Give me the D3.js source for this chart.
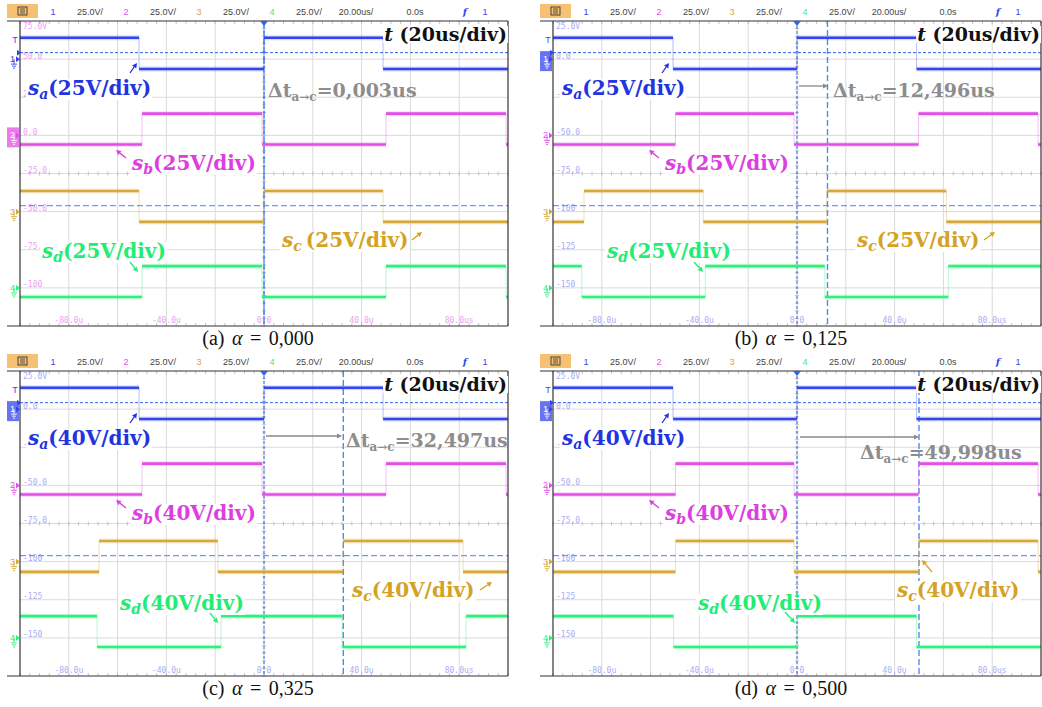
<!DOCTYPE html>
<html>
<head>
<meta charset="utf-8">
<script src="https://cdn.jsdelivr.net/npm/d3@7"></script>
<style>
  body { margin: 0; background: #fff; }
  svg { display: block; }
</style>
</head>
<body>
<script>
var W = 1042, H = 707;

var panelNames = ['a', 'b', 'c', 'd'];
var alphaValues = ['0,000', '0,125', '0,325', '0,500'];
var voltsPerDiv = ['25V/div', '25V/div', '40V/div', '40V/div'];
var deltaT = [0.003, 12.496, 32.497, 49.998];
var deltaTLabels = ['=0,003us', '=12,496us', '=32,497us', '=49,998us'];

var gridTimes = [-80, -60, -40, -20, 0, 20, 40, 60, 80];
var gridDivs = [-3, -2, -1, 0, 1, 2, 3];
var timeTicks = [-80, -40, 0, 40, 80];
var timeTickLabels = ['-80.0u', '-40.0u', '0.0', '40.0u', '80.0us'];
var levelDivs = [4, 3, 2, 1, 0, -1, -2, -3];
var levelLabelsA = ['75.0V', '50.0', '25.0', '0.0', '-25.0', '-50.0', '-75.0', '-100'];
var levelLabelsB = ['25.0V', '0.0', '-25.0', '-50.0', '-75.0', '-100', '-125', '-150'];

var headerLabels = ['1', '25.0V/', '2', '25.0V/', '3', '25.0V/', '4', '25.0V/', '20.00us/', '0.0s', '1'];

// trace levels, in screen divisions (center = 0)
var highLevel = [3.56, 1.57, -0.46, -2.43];
var lowLevel = [2.74, 0.76, -1.27, -3.24];
var groundLevel = [3, 1, -1, -3];
var triggerLevel = 3.17;
var cursorLevel = -0.84;

// switching edges in us, per panel; trace starts high (1) or low (0) at -100us
var startSa = [1, 1, 1, 1];
var startSb = [0, 0, 0, 0];
var startSc = [1, 0, 0, 0];
var startSd = [0, 1, 1, 1];
var edgesSa = [[-51.2, 0, 48.8], [-50.8, 0, 49.0], [-51.2, 0, 48.8], [-50.8, 0, 49.0]];
var edgesSb = [[-50.0, -0.8, 50.0, 99.2], [-49.8, -1.2, 49.8, 98.8], [-50.0, -0.8, 50.0, 99.2], [-49.8, -1.2, 49.8, 98.8]];
var edgesSc = [[-51.2, 0, 48.8], [-87.3, -38.4, 12.2, 61.2], [-67.6, -18.9, 32.4, 81.6], [-49.8, -1.2, 49.8, 98.8]];
var edgesSd = [[-50.0, -0.8, 50.0, 99.2], [-88.2, -37.6, 11.4, 62.0], [-68.4, -17.6, 32.0, 82.8], [-50.6, 0, 49.0]];

var traceColors = ['#3346ee', '#e24fe6', '#d6a83a', '#30f07c'];
var labelColors = ['#2233e0', '#dd3ee0', '#d4a224', '#22ec74'];
var chanNames = ['a', 'b', 'c', 'd'];

// ---- layout ----
var panelX = [20, 553, 20, 553];
var panelTop = [21, 21, 371, 371];
var plotW = 488, plotH = 305;

// annotation placement relative to the plot origin
var notes = [
  { sa: [8, 74], sb: [112, 149], sc: [262, 226], sd: [22, 237],
    aSa: [110, 52, 117, 42], aSb: [106, 137, 96, 129], aSc: [392, 219, 402, 211], aSd: [110, 241, 118, 251],
    dt: [248, 76], dtArrow: null },
  { sa: [9, 74], sb: [112, 149], sc: [304, 226], sd: [54, 237],
    aSa: [109, 52, 116, 42], aSb: [106, 137, 96, 129], aSc: [431, 219, 442, 211], aSd: [141, 241, 150, 251],
    dt: [280, 76], dtArrow: [246, 65, 275, 65] },
  { sa: [8, 74], sb: [112, 149], sc: [332, 226], sd: [100, 239],
    aSa: [110, 52, 117, 42], aSb: [106, 137, 96, 129], aSc: [460, 219, 472, 211], aSd: [190, 242, 198, 252],
    dt: [326, 76], dtArrow: [246, 65, 322, 65] },
  { sa: [9, 74], sb: [112, 149], sc: [344, 226], sd: [145, 239],
    aSa: [109, 52, 116, 42], aSb: [106, 137, 96, 129], aSc: [379, 201, 369, 189], aSd: [232, 241, 242, 252],
    dt: [307, 88], dtArrow: [247, 66, 366, 66] }
];

var svg = d3.select('body').append('svg').attr('width', W).attr('height', H);

var serif = '"DejaVu Serif", serif';
var mono = '"DejaVu Sans Mono", monospace';
var sans = '"Liberation Sans", Arial, sans-serif';

// text made of runs: {t, it, sub, size}
function richText(g, x, y, runs, size, color, anchor) {
  var txt = g.append('text')
    .attr('x', x).attr('y', y)
    .attr('font-family', serif)
    .attr('font-weight', 'bold')
    .attr('font-size', size)
    .attr('fill', color)
    .attr('text-anchor', anchor || 'start');
  var shift = 0;
  runs.forEach(function(r) {
    var dy = (r.sub ? 4 : 0) - shift;
    shift = r.sub ? 4 : 0;
    txt.append('tspan')
      .attr('dy', dy)
      .attr('font-style', r.it ? 'italic' : 'normal')
      .attr('font-size', r.size || size)
      .text(r.t);
  });
  return txt;
}

function withBackground(g, txt) {
  var b = txt.node().getBBox();
  g.insert('rect', function() { return txt.node(); })
    .attr('x', b.x - 1).attr('y', b.y + 3)
    .attr('width', b.width + 2).attr('height', b.height - 5)
    .attr('fill', '#fff');
}

function arrow(g, a, color, w) {
  var x1 = a[0], y1 = a[1], x2 = a[2], y2 = a[3];
  var ang = Math.atan2(y2 - y1, x2 - x1);
  var hl = 5, hw = 2.6;
  var bx = x2 - hl * Math.cos(ang), by = y2 - hl * Math.sin(ang);
  g.append('line')
    .attr('x1', x1).attr('y1', y1).attr('x2', bx).attr('y2', by)
    .attr('stroke', color).attr('stroke-width', w || 1.4);
  g.append('path')
    .attr('d', 'M' + x2 + ',' + y2 +
      'L' + (bx - hw * Math.sin(ang)) + ',' + (by + hw * Math.cos(ang)) +
      'L' + (bx + hw * Math.sin(ang)) + ',' + (by - hw * Math.cos(ang)) + 'Z')
    .attr('fill', color);
}

function segments(start, edges) {
  var times = [-100].concat(edges, [100]);
  var out = [];
  for (var i = 0; i < times.length - 1; i++) {
    out.push({ t0: times[i], t1: times[i + 1], high: (start + i) % 2 === 1 });
  }
  return out;
}

function drawPanel(p) {
  var x0 = panelX[p], top = panelTop[p];
  var g = svg.append('g');
  var x = d3.scaleLinear().domain([-100, 100]).range([x0, x0 + plotW]);
  var y = d3.scaleLinear().domain([-4, 4]).range([top + plotH, top]);
  var bottom = top + plotH;

  // header bar
  var hdr = g.append('g');
  hdr.append('rect').attr('x', x0 - 13).attr('y', top - 17).attr('width', 31).attr('height', 14)
    .attr('fill', '#f6c173');
  hdr.append('rect').attr('x', x0 - 2).attr('y', top - 14).attr('width', 9).attr('height', 8)
    .attr('fill', 'none').attr('stroke', '#333').attr('stroke-width', 0.9);
  [0, 2, 4].forEach(function(k) {
    hdr.append('line').attr('x1', x0).attr('x2', x0 + 5)
      .attr('y1', top - 12 + k).attr('y2', top - 12 + k)
      .attr('stroke', '#333').attr('stroke-width', 0.8);
  });
  var hdrX = [33, 70, 106, 143, 179, 216, 252, 289, 336, 395, 465];
  var hdrCol = [traceColors[0], '#444', traceColors[1], '#444', traceColors[2], '#444',
    traceColors[3], '#444', '#444', '#444', traceColors[0]];
  hdr.selectAll('text.h').data(headerLabels).enter().append('text')
    .attr('class', 'h')
    .attr('x', function(d, i) { return x0 + hdrX[i]; })
    .attr('y', top - 6)
    .attr('text-anchor', 'middle')
    .attr('font-family', sans).attr('font-size', 9)
    .attr('fill', function(d, i) { return hdrCol[i]; })
    .text(function(d) { return d; });
  hdr.append('text').attr('x', x0 + 445).attr('y', top - 6).attr('text-anchor', 'middle')
    .attr('font-family', serif).attr('font-style', 'italic').attr('font-weight', 'bold')
    .attr('font-size', 10).attr('fill', traceColors[0]).text('f');

  // grid
  g.selectAll('line.gv').data(gridTimes).enter().append('line')
    .attr('x1', function(d) { return x(d); }).attr('x2', function(d) { return x(d); })
    .attr('y1', top).attr('y2', bottom)
    .attr('stroke', '#dadada').attr('stroke-width', 1);
  g.selectAll('line.gh').data(gridDivs).enter().append('line')
    .attr('y1', function(d) { return y(d); }).attr('y2', function(d) { return y(d); })
    .attr('x1', x0).attr('x2', x0 + plotW)
    .attr('stroke', '#dadada').attr('stroke-width', 1);

  // minor ticks on the border and center axes
  var minorT = d3.range(-100, 100.1, 4);
  var minorD = d3.range(-4, 4.01, 0.2);
  var ticks = g.append('g').attr('stroke', '#b8b8b8').attr('stroke-width', 0.8);
  minorT.forEach(function(t) {
    ticks.append('line').attr('x1', x(t)).attr('x2', x(t)).attr('y1', top).attr('y2', top + 3);
    ticks.append('line').attr('x1', x(t)).attr('x2', x(t)).attr('y1', bottom - 3).attr('y2', bottom);
    ticks.append('line').attr('x1', x(t)).attr('x2', x(t)).attr('y1', y(0) - 2).attr('y2', y(0) + 2);
  });
  minorD.forEach(function(d) {
    ticks.append('line').attr('y1', y(d)).attr('y2', y(d)).attr('x1', x(0) - 2).attr('x2', x(0) + 2);
  });

  // scale readouts
  var lblColor = p === 0 ? '#eaa2ef' : '#a9aef2';
  var lvl = p === 0 ? levelLabelsA : levelLabelsB;
  g.selectAll('text.lv').data(levelDivs).enter().append('text')
    .attr('x', x0 + 3)
    .attr('y', function(d) { return d === 4 ? top + 8 : y(d) - 0.5; })
    .attr('font-family', mono).attr('font-size', 8).attr('fill', lblColor)
    .text(function(d, i) { return lvl[i]; });
  g.selectAll('text.tv').data(timeTicks).enter().append('text')
    .attr('x', function(d) { return x(d); })
    .attr('y', bottom - 3)
    .attr('text-anchor', 'middle')
    .attr('font-family', mono).attr('font-size', 8).attr('fill', lblColor)
    .text(function(d, i) { return timeTickLabels[i]; });

  // cursors
  g.append('line').attr('x1', x0).attr('x2', x0 + plotW)
    .attr('y1', y(triggerLevel)).attr('y2', y(triggerLevel))
    .attr('stroke', '#2d66e8').attr('stroke-width', 1).attr('stroke-dasharray', '3,2');
  g.append('line').attr('x1', x0).attr('x2', x0 + plotW)
    .attr('y1', y(cursorLevel)).attr('y2', y(cursorLevel))
    .attr('stroke', '#6c9cf2').attr('stroke-width', 1.3).attr('stroke-dasharray', '6,3');
  g.append('line').attr('x1', x(0)).attr('x2', x(0))
    .attr('y1', top).attr('y2', bottom)
    .attr('stroke', '#2d66e8').attr('stroke-width', 1).attr('stroke-dasharray', '3,2');
  g.append('line').attr('x1', x(deltaT[p])).attr('x2', x(deltaT[p]))
    .attr('y1', top).attr('y2', bottom)
    .attr('stroke', '#4f8cef').attr('stroke-width', 1.4).attr('stroke-dasharray', '6,3');

  // traces
  var starts = [startSa[p], startSb[p], startSc[p], startSd[p]];
  var edges = [edgesSa[p], edgesSb[p], edgesSc[p], edgesSd[p]];
  starts.forEach(function(s, c) {
    var segs = segments(s, edges[c]);
    var tg = g.append('g');
    tg.selectAll('line.e').data(edges[c]).enter().append('line')
      .attr('x1', function(d) { return x(d); }).attr('x2', function(d) { return x(d); })
      .attr('y1', y(highLevel[c])).attr('y2', y(lowLevel[c]))
      .attr('stroke', traceColors[c]).attr('stroke-width', 1).attr('stroke-opacity', 0.35);
    tg.selectAll('line.glow').data(segs).enter().append('line')
      .attr('x1', function(d) { return x(d.t0); }).attr('x2', function(d) { return x(d.t1); })
      .attr('y1', function(d) { return y(d.high ? highLevel[c] : lowLevel[c]); })
      .attr('y2', function(d) { return y(d.high ? highLevel[c] : lowLevel[c]); })
      .attr('stroke', traceColors[c]).attr('stroke-width', 5).attr('stroke-opacity', 0.2);
    tg.selectAll('line.s').data(segs).enter().append('line')
      .attr('x1', function(d) { return x(d.t0); }).attr('x2', function(d) { return x(d.t1); })
      .attr('y1', function(d) { return y(d.high ? highLevel[c] : lowLevel[c]); })
      .attr('y2', function(d) { return y(d.high ? highLevel[c] : lowLevel[c]); })
      .attr('stroke', traceColors[c]).attr('stroke-width', 2.6);
  });

  // frame
  g.append('line').attr('x1', x0 - 13).attr('x2', x0 + plotW).attr('y1', top).attr('y2', top)
    .attr('stroke', '#333').attr('stroke-width', 1.2);
  g.append('line').attr('x1', x0 - 13).attr('x2', x0 + plotW).attr('y1', bottom).attr('y2', bottom)
    .attr('stroke', '#333').attr('stroke-width', 1.2);
  g.append('line').attr('x1', x0).attr('x2', x0).attr('y1', top).attr('y2', bottom)
    .attr('stroke', '#333').attr('stroke-width', 1.2);
  g.append('line').attr('x1', x0 + plotW).attr('x2', x0 + plotW).attr('y1', top).attr('y2', bottom)
    .attr('stroke', '#333').attr('stroke-width', 1.2);

  // trigger position marker
  g.append('path')
    .attr('d', 'M' + (x(0) - 4) + ',' + top + 'L' + (x(0) + 4) + ',' + top + 'L' + x(0) + ',' + (top + 5) + 'Z')
    .attr('fill', '#2d66e8');

  // channel ground markers
  var sel = p === 0 ? 1 : 0;
  groundLevel.forEach(function(lv, c) {
    var gy = y(lv);
    if (c === sel) {
      g.append('rect').attr('x', x0 - 13).attr('y', gy - 8).attr('width', 12).attr('height', 20)
        .attr('fill', traceColors[c]).attr('fill-opacity', 0.75);
    }
    g.append('text').attr('x', x0 - 10).attr('y', gy + 3)
      .attr('font-family', sans).attr('font-size', 9)
      .attr('fill', c === sel ? '#fff' : traceColors[c]).text(String(c + 1));
    g.append('path')
      .attr('d', 'M' + (x0 - 4) + ',' + (gy - 3) + 'L' + x0 + ',' + gy + 'L' + (x0 - 4) + ',' + (gy + 3) + 'Z')
      .attr('fill', traceColors[c]);
    var gs = c === sel ? '#fff' : traceColors[c];
    g.append('path')
      .attr('d', 'M' + (x0 - 6) + ',' + gy + 'V' + (gy + 5) +
        'M' + (x0 - 9) + ',' + (gy + 5) + 'H' + (x0 - 3) +
        'M' + (x0 - 8) + ',' + (gy + 7) + 'H' + (x0 - 4) +
        'M' + (x0 - 7) + ',' + (gy + 9) + 'H' + (x0 - 5))
      .attr('stroke', gs).attr('stroke-width', 0.9).attr('fill', 'none');
  });
  g.append('text').attr('x', x0 - 5).attr('y', y(3.42)).attr('text-anchor', 'middle')
    .attr('font-family', sans).attr('font-size', 9).attr('fill', traceColors[0]).text('T');
  g.append('path')
    .attr('d', 'M' + (x0 - 3) + ',' + (y(triggerLevel) - 3) + 'L' + (x0 + 1) + ',' + y(triggerLevel) +
      'L' + (x0 - 3) + ',' + (y(triggerLevel) + 3) + 'Z')
    .attr('fill', traceColors[0]);

  // annotations
  var n = notes[p];
  var ann = g.append('g');
  var tl = richText(ann, x0 + 487, top + 20, [{ t: 't', it: true }, { t: ' (20us/div)' }], 19, '#111', 'end');
  withBackground(ann, tl);

  var keys = ['sa', 'sb', 'sc', 'sd'];
  keys.forEach(function(k, c) {
    var pos = n[k];
    var runs = [{ t: 's', it: true }, { t: chanNames[c], it: true, sub: true, size: 14 },
      { t: (c === 2 && p === 0 ? '\u2009(' : '(') + voltsPerDiv[p] + ')' }];
    var t = richText(ann, x0 + pos[0], top + pos[1], runs, 20, labelColors[c]);
    withBackground(ann, t);
    var a = n['aS' + k.charAt(1)];
    arrow(ann, [x0 + a[0], top + a[1], x0 + a[2], top + a[3]], labelColors[c], 1.3);
  });

  if (n.dtArrow) {
    var da = n.dtArrow;
    arrow(ann, [x0 + da[0], top + da[1], x0 + da[2], top + da[3]], '#8a8a8a', 1.3);
  }
  richText(ann, x0 + n.dt[0], top + n.dt[1],
    [{ t: '\u0394t' }, { t: 'a\u2192c', sub: true, size: 12 }, { t: deltaTLabels[p] }], 19, '#8d8d8d');

  // caption
  var cap = svg.append('text')
    .attr('x', x(0) - 6).attr('y', top + 324)
    .attr('text-anchor', 'middle')
    .attr('font-family', '"Liberation Serif", serif')
    .attr('font-size', 20).attr('fill', '#111')
    .attr('word-spacing', 2.5);
  cap.append('tspan').text('(' + panelNames[p] + ') ');
  cap.append('tspan').attr('font-style', 'italic').text('\u03b1');
  cap.append('tspan').text(' = ' + alphaValues[p]);
}

[0, 1, 2, 3].forEach(drawPanel);
</script>
</body>
</html>
